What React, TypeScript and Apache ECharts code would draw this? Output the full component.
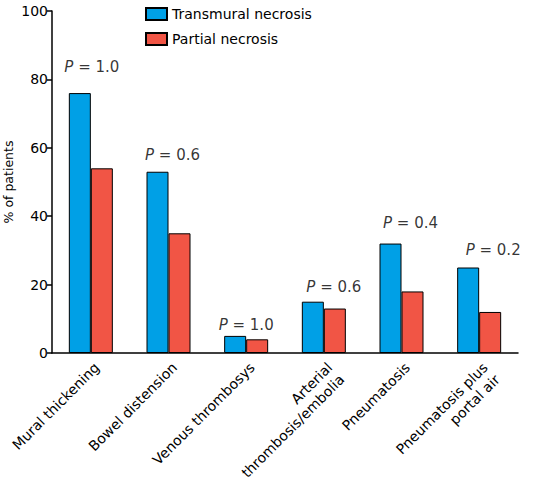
import React, { useEffect, useRef } from "react";
import * as echarts from "echarts";

const categories = [
  "Mural thickening",
  "Bowel distension",
  "Venous thrombosys",
  "Arterial\nthrombosis/embolia",
  "Pneumatosis",
  "Pneumatosis plus\nportal air",
];
const transmural = [76, 53, 5, 15, 32, 25];
const partial = [54, 35, 4, 13, 18, 12];
const pValues = ["1.0", "0.6", "1.0", "0.6", "0.4", "0.2"];
const pLabelY = [83.6, 58, 8.3, 19.4, 38, 30];
const pLabelDx = [1, 4, 0, 10, 9, 14];
const yTicks = [0, 20, 40, 60, 80, 100];

const FONT = "'DejaVu Sans', sans-serif";
const BLUE = "#00A0E6";
const RED = "#F15545";

export default function App() {
  const ref = useRef<HTMLDivElement>(null);
  useEffect(() => {
    document.body.style.margin = "0";
    const chart = echarts.init(ref.current!, null, { renderer: "svg" });
    chart.setOption({
      animation: false,
      textStyle: { fontFamily: FONT, color: "#000" },
      legend: {
        orient: "vertical",
        left: 145,
        top: 7,
        padding: 0,
        itemWidth: 21,
        itemHeight: 12,
        itemGap: 11,
        icon: "rect",
        textStyle: { fontFamily: FONT, fontSize: 14, color: "#000" },
        data: ["Transmural necrosis", "Partial necrosis"],
      },
      grid: {
        left: 52,
        right: 19,
        top: 11,
        bottom: 126,
        containLabel: false,
        outerBoundsMode: "none",
      },
      xAxis: {
        type: "category",
        data: categories,
        axisLine: { lineStyle: { color: "#000", width: 1.5 } },
        axisTick: { show: false },
        axisLabel: {
          rotate: 45,
          margin: 6,
          interval: 0,
          fontFamily: FONT,
          fontSize: 14,
          color: "#000",
          align: "right",
          verticalAlign: "top",
          lineHeight: 17,
        },
      },
      yAxis: {
        type: "value",
        min: 0,
        max: 100,
        interval: 20,
        name: "% of patients",
        nameLocation: "middle",
        nameGap: 37,
        nameRotate: 90,
        nameMoveOverlap: false,
        nameTextStyle: { fontFamily: FONT, fontSize: 12.5, color: "#000" },
        axisLine: { show: true, lineStyle: { color: "#000", width: 1.5 } },
        axisTick: { show: true, inside: false, length: 5, lineStyle: { color: "#000", width: 1.5 } },
        splitLine: { show: false },
        axisLabel: {
          margin: 4,
          fontFamily: FONT,
          fontSize: 14,
          color: "#000",
          formatter: (v: number) => (yTicks.includes(v) ? String(v) : ""),
        },
      },
      series: [
        {
          name: "Transmural necrosis",
          type: "bar",
          data: transmural,
          barWidth: 22,
          barGap: "0%",
          itemStyle: { color: BLUE, borderColor: "#000", borderWidth: 1 },
        },
        {
          name: "Partial necrosis",
          type: "bar",
          data: partial,
          barWidth: 22,
          barGap: "0%",
          itemStyle: { color: RED, borderColor: "#000", borderWidth: 1 },
        },
        {
          name: "pvals",
          type: "scatter",
          silent: true,
          symbolSize: 0,
          data: pLabelY.map((y, i) => ({
            value: [i, y],
            label: { offset: [pLabelDx[i], 0] },
          })),
          label: {
            show: true,
            position: "inside",
            formatter: (p: any) => `{i|P} = ${pValues[p.dataIndex]}`,
            fontFamily: FONT,
            fontSize: 15,
            color: "#000",
            rich: {
              i: { fontStyle: "italic", fontFamily: FONT, fontSize: 15, color: "#000" },
            },
          },
        },
      ],
    });
    return () => chart.dispose();
  }, []);
  return <div ref={ref} style={{ width: 537, height: 479 }} />;
}
